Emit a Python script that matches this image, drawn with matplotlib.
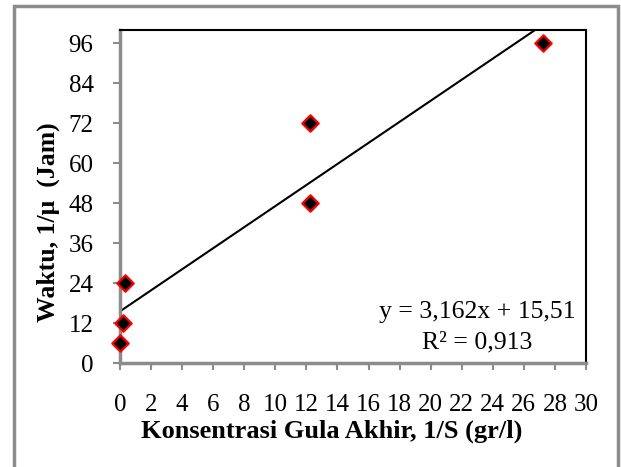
import matplotlib.pyplot as plt
from matplotlib.patches import Rectangle
import numpy as np

plt.rcParams['font.family'] = ['Liberation Serif', 'DejaVu Serif']

# data
x_vals = [0.0, 0.2, 0.3, 12.2, 12.2, 27.2]
y_vals = [6, 12, 24, 72, 48, 96]
slope = 3.162
intercept = 15.51
x_ticks = list(range(0, 31, 2))
y_ticks = list(range(0, 97, 12))

fig = plt.figure(figsize=(6.21, 4.67), dpi=100)
ax = fig.add_axes([120 / 621, 1 - 363 / 467, 466 / 621, 333 / 467])

# outer chart border
fig.patches.append(Rectangle((14 / 621, -0.05), (618 - 14) / 621, 1.05 - 6 / 467,
                             transform=fig.transFigure, fill=False,
                             edgecolor='#8c8c8c', linewidth=2.5))

xl = np.linspace(0, 30, 200)
ax.plot(xl, slope * xl + intercept, color='black', linewidth=1.5, zorder=2)
ax.scatter(x_vals, y_vals, marker='D', s=70, facecolor='black',
           edgecolor='red', linewidth=1.6, zorder=3, clip_on=False)

ax.set_xlim(0, 30)
ax.set_ylim(0, 100)
ax.set_xticks(x_ticks)
ax.set_yticks(y_ticks)
ax.tick_params(labelsize=18, length=5, width=1.5, color='#8c8c8c', direction='out', pad=14)
ax.tick_params(axis='x', pad=17)

for s in ['top', 'right']:
    ax.spines[s].set_color('black')
    ax.spines[s].set_linewidth(1.5)
for s in ['left', 'bottom']:
    ax.spines[s].set_color('#8c8c8c')
    ax.spines[s].set_linewidth(2.5)

ax.set_xlabel('Konsentrasi Gula Akhir, 1/S (gr/l)', fontsize=19, fontweight='bold',
              labelpad=3, x=0.455)
ax.set_ylabel('Waktu, 1/\u03bc  (Jam)', fontsize=18.5, fontweight='bold',
              labelpad=6, y=0.423)

ax.text(0.767, 0.135, 'y = 3,162x + 15,51', transform=ax.transAxes,
        ha='center', va='baseline', fontsize=18.5)
ax.text(0.767, 0.045, 'R\u00b2 = 0,913', transform=ax.transAxes,
        ha='center', va='baseline', fontsize=18.5)

fig.savefig('out.png', dpi=100)
